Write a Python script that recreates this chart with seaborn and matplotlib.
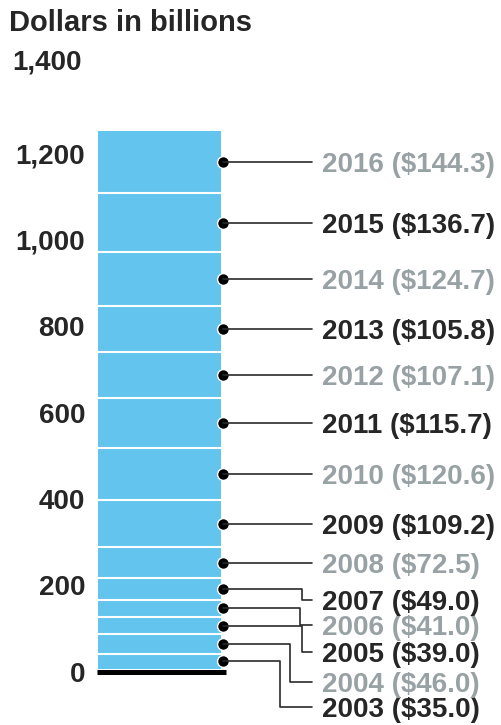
import numpy as np
import pandas as pd
import matplotlib
matplotlib.use("Agg")
import matplotlib.pyplot as plt
import matplotlib.transforms as mtransforms
import seaborn as sns

# ---------------- data ----------------
years = [2003, 2004, 2005, 2006, 2007, 2008, 2009, 2010,
         2011, 2012, 2013, 2014, 2015, 2016]
values = [35.0, 46.0, 39.0, 41.0, 49.0, 72.5, 109.2, 120.6,
          115.7, 107.1, 105.8, 124.7, 136.7, 144.3]
y_ticks = [0, 200, 400, 600, 800, 1000, 1200]
y_tick_labels = ["0", "200", "400", "600", "800", "1,000", "1,200"]
top_tick_label = "1,400"
title = "Dollars in billions"

# ---------------- layout (pixels) ----------------
W, H = 501, 725
BAR_L, BAR_R = 97.7, 221.0
PY_ZERO, PY_TOP = 669.0, 64.8          # pixel rows for 0 and 1400
DOT_X = 223.0
LINE_END_X = 312.0
TEXT_X = 322.0
# crowded labels at the bottom: (drop below dot in px, elbow x in px)
label_adjust = {2007: (11, 302), 2006: (17, 300), 2005: (26, 302),
                2004: (38, 290), 2003: (46, 280)}

BLUE = "#63c5ee"
DARK = "#262626"
GREY = "#98a2a5"
LINE = "#2a2a2a"
FS = 20

df = pd.DataFrame({"year": years, "value": values})
df["top"] = df["value"].cumsum()
df["bottom"] = df["top"] - df["value"]
df["mid"] = df["bottom"] + df["value"] / 2
df["label"] = [f"{y} (${v:.1f})" for y, v in zip(df["year"], df["value"])]

sns.set_theme(style="white")
plt.rcParams["font.family"] = ["Liberation Sans", "DejaVu Sans"]
plt.rcParams["font.weight"] = "bold"

fig = plt.figure(figsize=(W / 100, H / 100), dpi=100)
ax = fig.add_axes([BAR_L / W, 1 - PY_ZERO / H,
                   (BAR_R - BAR_L) / W, (PY_ZERO - PY_TOP) / H])

# stacked bar drawn as overlaid cumulative bars (largest first)
for top in df["top"][::-1]:
    sns.barplot(x=["all"], y=[top], color=BLUE, saturation=1, width=1.0,
                linewidth=0, ax=ax)
# white separators between segments
ax.hlines(df["top"].iloc[:-1], -0.5, 0.5, color="white", lw=1.5, zorder=3)

ax.set_xlim(-0.5, 0.5)
ax.set_ylim(0, 1400)
ax.set_xticks([])
ax.set_yticks(y_ticks, y_tick_labels)
ax.set_xlabel("")
ax.set_ylabel("")
ax.tick_params(axis="y", length=0, pad=9.1, labelsize=FS, labelcolor=DARK)
for lab in ax.get_yticklabels():
    lab.set_fontweight("bold")
    lab.set_transform(lab.get_transform() +
                      mtransforms.ScaledTranslation(0, -2.5 / 100, fig.dpi_scale_trans))
sns.despine(ax=ax, left=True, bottom=True)
ax.grid(False)

# baseline
base_tr = mtransforms.blended_transform_factory(fig.transFigure, ax.transData)
base_tr = base_tr + mtransforms.ScaledTranslation(0, -2.8 / 100, fig.dpi_scale_trans)
ax.plot([97 / W, 225.7 / W], [0, 0], transform=base_tr, color="black",
        lw=3.6, solid_capstyle="butt", clip_on=False, zorder=4)

# dots at segment midpoints
dot_tr = mtransforms.blended_transform_factory(fig.transFigure, ax.transData)
ax.scatter([DOT_X / W] * len(df), df["mid"], transform=dot_tr, s=72,
           color="black", edgecolors="white", linewidths=1.0,
           clip_on=False, zorder=6)

# leader lines and labels
fig.canvas.draw()
for _, r in df.iterrows():
    dot_disp = ax.transData.transform((0, r["mid"]))[1]   # pixels from bottom
    drop, elbow = label_adjust.get(int(r["year"]), (0, None))
    lab_disp = dot_disp - drop
    if elbow is None:
        xs = [DOT_X, LINE_END_X]
        ys = [dot_disp, dot_disp]
    else:
        xs = [DOT_X, elbow, elbow, LINE_END_X]
        ys = [dot_disp, dot_disp, lab_disp, lab_disp]
    fig.add_artist(plt.Line2D([x / W for x in xs], [y / H for y in ys],
                              transform=fig.transFigure, color=LINE, lw=1.2,
                              zorder=5))
    color = GREY if int(r["year"]) % 2 == 0 else DARK
    fig.text(TEXT_X / W, lab_disp / H, r["label"], ha="left",
             va="center_baseline", fontsize=FS, color=color, fontweight="bold")

fig.text(9 / W, 1 - 20 / H, title, ha="left", va="center_baseline",
         fontsize=21, color=DARK, fontweight="bold")
fig.text(82 / W, 1 - 59 / H, top_tick_label, ha="right", va="center_baseline",
         fontsize=FS, color=DARK, fontweight="bold")

fig.savefig("out.png", dpi=100, facecolor="white")
